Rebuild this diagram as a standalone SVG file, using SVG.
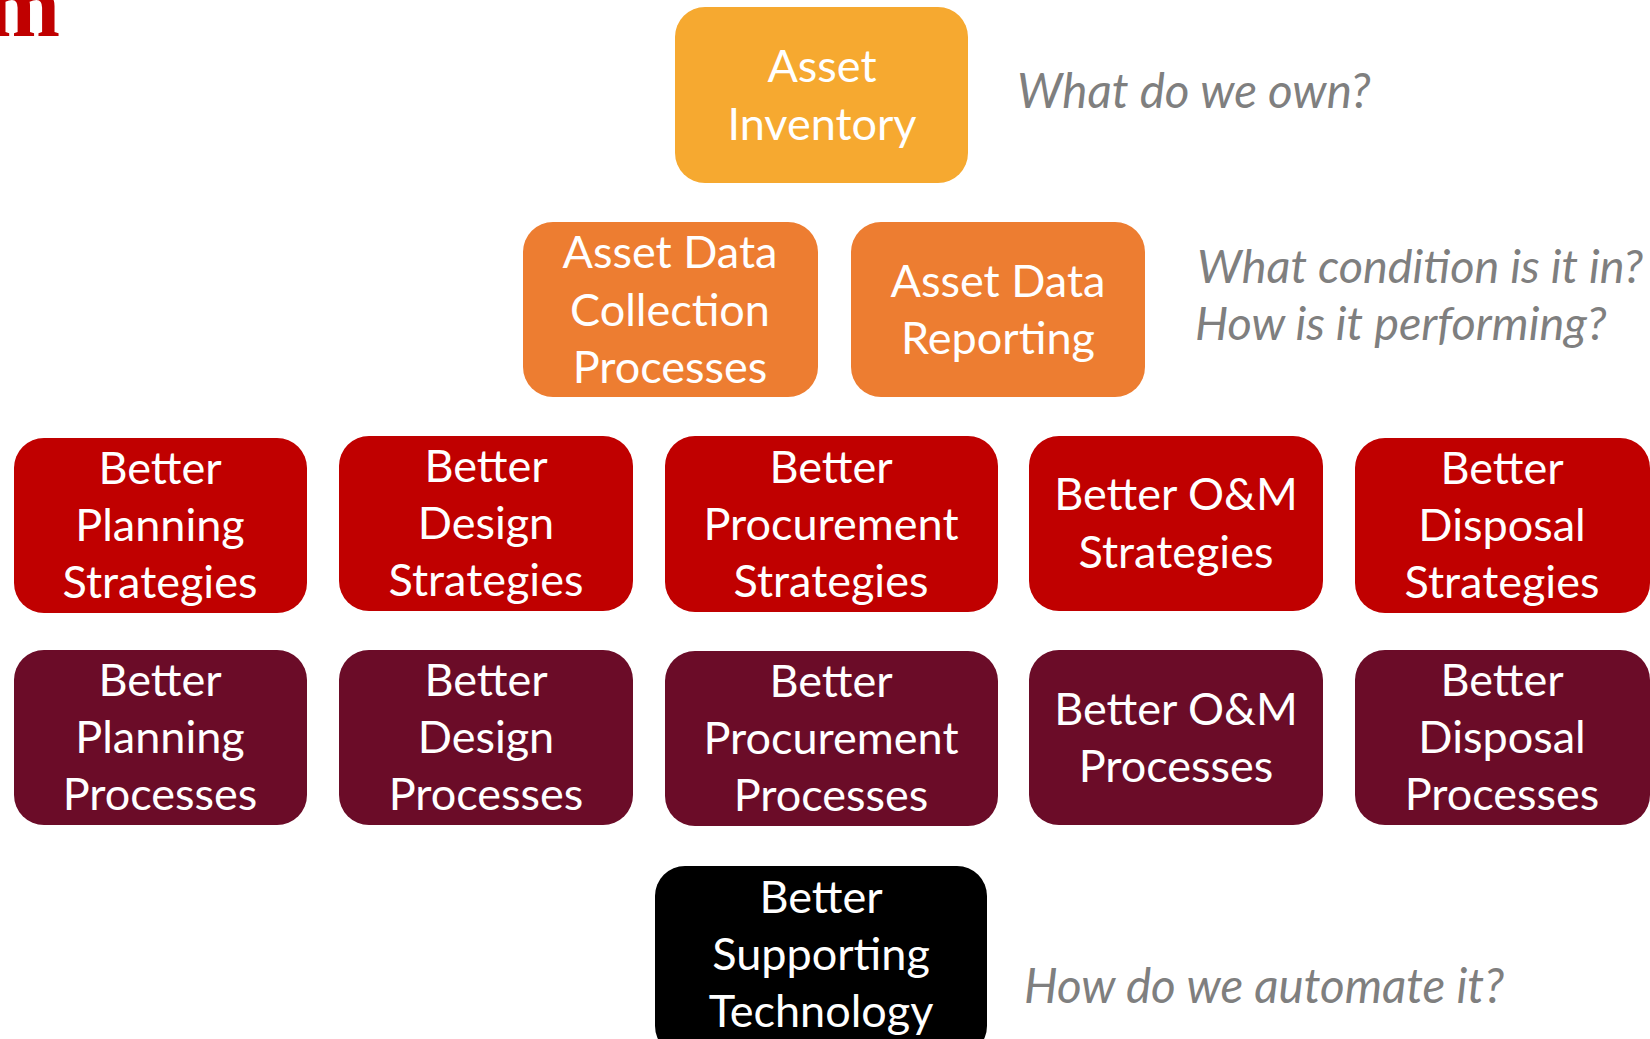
<svg xmlns="http://www.w3.org/2000/svg" width="1650" height="1039" viewBox="0 0 1650 1039">
<style>
.box text{font-family:Lato,"Open Sans",sans-serif;font-size:45px;fill:#fff;text-anchor:middle}
.q{font-family:Lato,"Open Sans",sans-serif;font-style:italic;font-size:47.5px;fill:#7f7f7f}
.inv{fill:#f6a930}.dat{fill:#ed7d31}.str{fill:#c00000}.pro{fill:#6b0c28}.tec{fill:#000}
</style>
<rect width="1650" height="1039" fill="#fff"/>
<text x="60" y="36" font-family="Liberation Serif,serif" font-weight="bold" font-size="88" fill="#c00000" text-anchor="end">m</text>
<g id="connectors"/>
<g id="asset-inventory" class="box"><rect class="inv" x="675" y="7" width="293" height="176" rx="30"/><text x="822" y="82">Asset</text><text x="822" y="140">Inventory</text></g>
<g id="asset-data-collection" class="box"><rect class="dat" x="523" y="222" width="295" height="175" rx="30"/><text x="670" y="268">Asset Data</text><text x="670" y="326">Collection</text><text x="670" y="383">Processes</text></g>
<g id="asset-data-reporting" class="box"><rect class="dat" x="851" y="222" width="294" height="175" rx="30"/><text x="998" y="297">Asset Data</text><text x="998" y="354">Reporting</text></g>
<g id="planning-strategies" class="box"><rect class="str" x="14" y="438" width="293" height="175" rx="30"/><text x="160" y="484">Better</text><text x="160" y="541">Planning</text><text x="160" y="598">Strategies</text></g>
<g id="design-strategies" class="box"><rect class="str" x="339" y="436" width="294" height="175" rx="30"/><text x="486" y="482">Better</text><text x="486" y="539">Design</text><text x="486" y="596">Strategies</text></g>
<g id="procurement-strategies" class="box"><rect class="str" x="665" y="436" width="333" height="176" rx="30"/><text x="831" y="483">Better</text><text x="831" y="540">Procurement</text><text x="831" y="597">Strategies</text></g>
<g id="om-strategies" class="box"><rect class="str" x="1029" y="436" width="294" height="175" rx="30"/><text x="1176" y="510">Better O&amp;M</text><text x="1176" y="568">Strategies</text></g>
<g id="disposal-strategies" class="box"><rect class="str" x="1355" y="438" width="295" height="175" rx="30"/><text x="1502" y="484">Better</text><text x="1502" y="541">Disposal</text><text x="1502" y="598">Strategies</text></g>
<g id="planning-processes" class="box"><rect class="pro" x="14" y="650" width="293" height="175" rx="30"/><text x="160" y="696">Better</text><text x="160" y="753">Planning</text><text x="160" y="810">Processes</text></g>
<g id="design-processes" class="box"><rect class="pro" x="339" y="650" width="294" height="175" rx="30"/><text x="486" y="696">Better</text><text x="486" y="753">Design</text><text x="486" y="810">Processes</text></g>
<g id="procurement-processes" class="box"><rect class="pro" x="665" y="651" width="333" height="175" rx="30"/><text x="831" y="697">Better</text><text x="831" y="754">Procurement</text><text x="831" y="811">Processes</text></g>
<g id="om-processes" class="box"><rect class="pro" x="1029" y="650" width="294" height="175" rx="30"/><text x="1176" y="725">Better O&amp;M</text><text x="1176" y="782">Processes</text></g>
<g id="disposal-processes" class="box"><rect class="pro" x="1355" y="650" width="295" height="175" rx="30"/><text x="1502" y="696">Better</text><text x="1502" y="753">Disposal</text><text x="1502" y="810">Processes</text></g>
<g id="supporting-technology" class="box"><rect class="tec" x="655" y="866" width="332" height="190" rx="30"/><text x="821" y="913">Better</text><text x="821" y="970">Supporting</text><text x="821" y="1027">Technology</text></g>
<g id="questions">
<text class="q" x="1017" y="108">What do we own?</text>
<text class="q" x="1197" y="283" style="font-size:46.8px">What condition is it in?</text>
<text class="q" x="1195" y="340" style="font-size:46.8px">How is it performing?</text>
<text class="q" x="1024" y="1003">How do we automate it?</text>
</g>
</svg>
